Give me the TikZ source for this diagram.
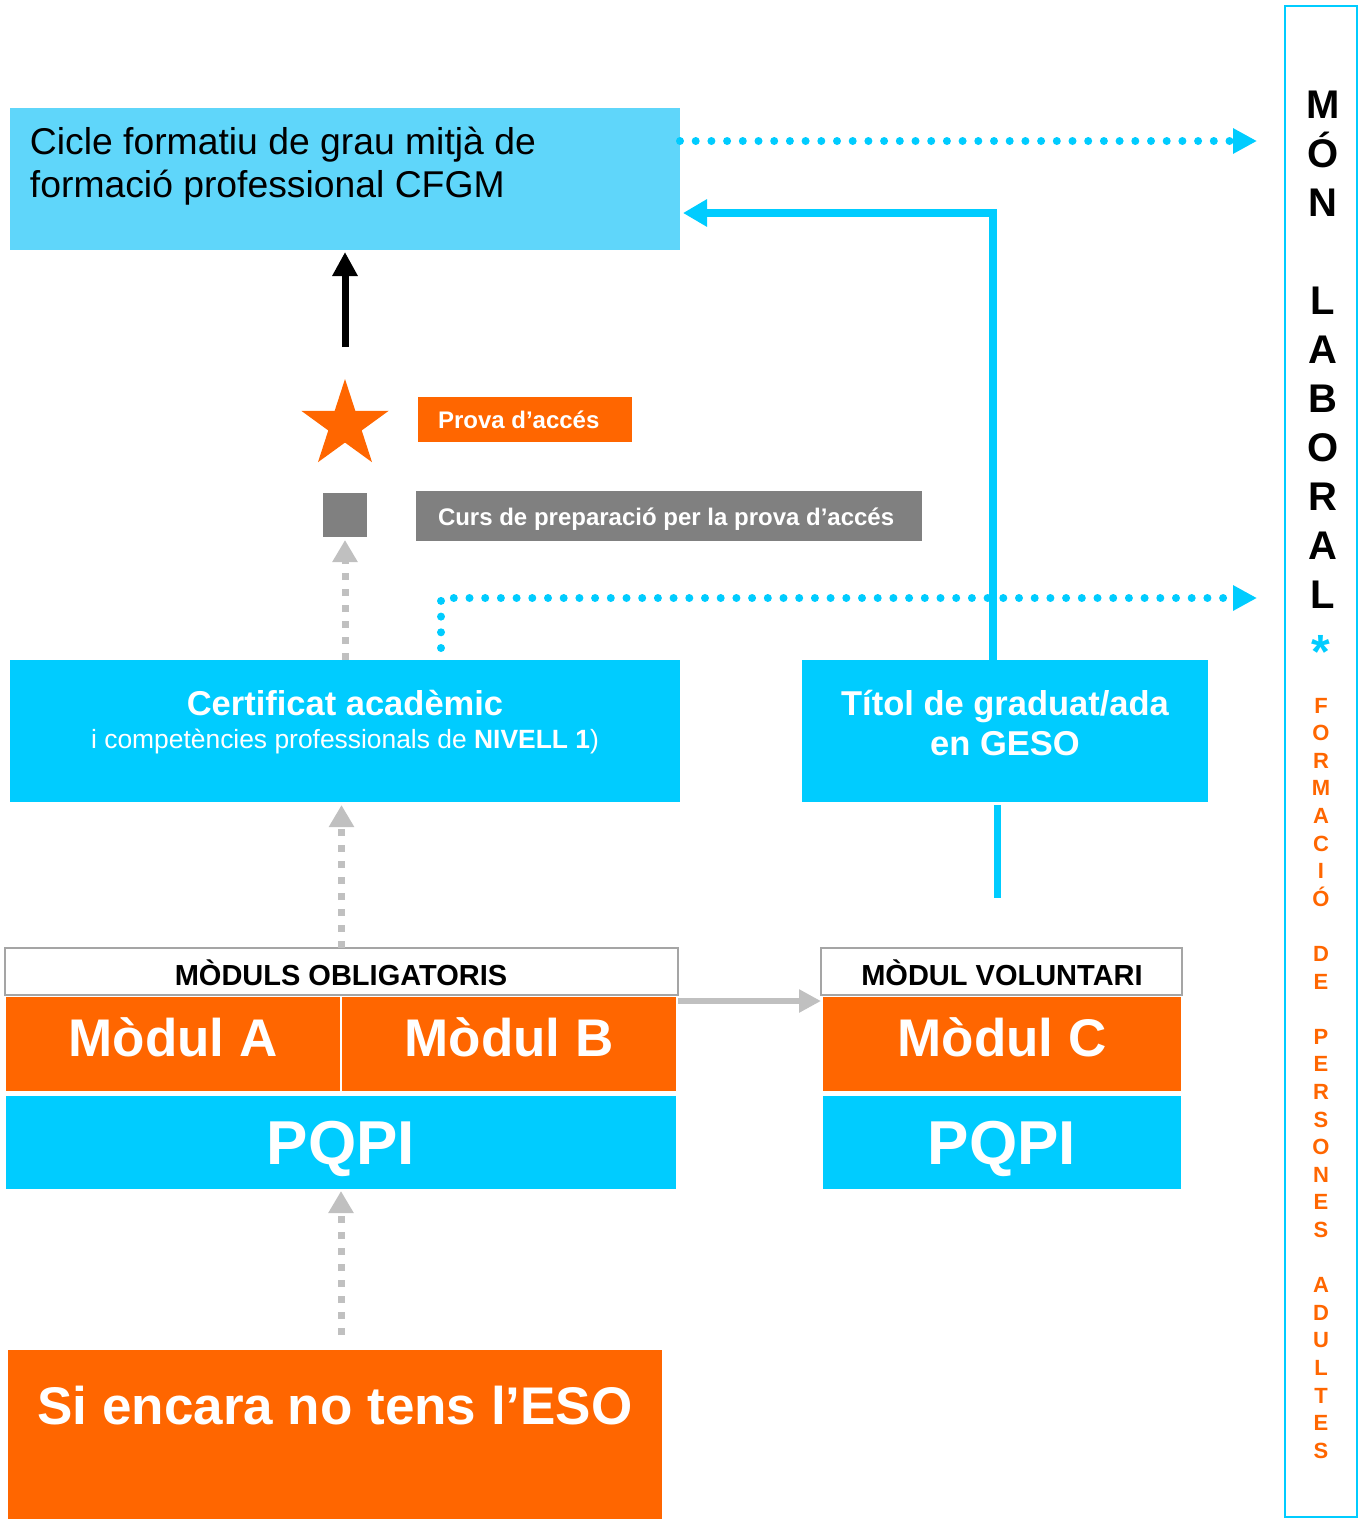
\documentclass[tikz,border=0pt]{standalone}
\usepackage{fontspec}
\setmainfont{Liberation Sans}
\usetikzlibrary{arrows.meta,shapes.geometric,calc}
\definecolor{cyanC}{RGB}{0,204,255}
\definecolor{cyanL}{RGB}{95,214,250}
\definecolor{orangeC}{RGB}{255,102,0}
\definecolor{grayC}{RGB}{128,128,128}
\definecolor{grayL}{RGB}{192,192,192}
\definecolor{grayB}{RGB}{165,165,165}
\begin{document}
\begin{tikzpicture}[x=1pt,y=-1pt,
  box/.style={anchor=north west, inner sep=0pt, outer sep=0pt},
  txt/.style={inner sep=0pt, outer sep=0pt, anchor=base},
  dotarrow/.style={draw=cyanC, line width=8pt, line cap=round, dash pattern=on 0pt off 15.7pt, -{Triangle[length=24pt,width=24pt]}},
  cyanarrow/.style={draw=cyanC, line width=8pt, -{Triangle[length=24pt,width=26pt]}},
  blackarrow/.style={draw=black, line width=7pt, -{Triangle[length=24pt,width=24pt]}},
  grayarrow/.style={draw=grayL, line width=7pt, dash pattern=on 7pt off 9pt, -{Triangle[length=22pt,width=24pt]}},
  graysolid/.style={draw=grayL, line width=6pt, -{Triangle[length=22pt,width=22pt]}},
  wtxt/.style={txt, text=white, font=\bfseries},
]
\useasboundingbox (0,0) rectangle (1364,1519);

% top box
\node[box, fill=cyanL, minimum width=670pt, minimum height=142pt] (cfgm) at (10,108) {};
\node[txt, anchor=base west, font=\fontsize{37.3}{43}\selectfont] (cfgmt1) at (30,154) {Cicle formatiu de grau mitjà de};
\node[txt, anchor=base west, font=\fontsize{37.3}{43}\selectfont] (cfgmt2) at (30,197) {formació professional CFGM};

% star and access test
\node[star, star points=5, star point ratio=2.618, minimum size=92pt, inner sep=0pt, fill=orangeC] (star) at (345,425) {};
\node[box, fill=orangeC, minimum width=214pt, minimum height=45pt] (prova) at (418,397) {};
\node[wtxt, anchor=base west, font=\bfseries\fontsize{24}{28}\selectfont] (provat) at (438,428) {Prova d’accés};
\node[box, fill=grayC, minimum width=44pt, minimum height=44pt] (sq) at (323,493) {};
\node[box, fill=grayC, minimum width=506pt, minimum height=50pt] (curs) at (416,491) {};
\node[wtxt, anchor=base west, font=\bfseries\fontsize{24}{28}\selectfont] (curst) at (438,525) {Curs de preparació per la prova d’accés};

% certificat
\node[box, fill=cyanC, minimum width=670pt, minimum height=142pt] (cert) at (10,660) {};
\node[wtxt, font=\bfseries\fontsize{34.5}{40}\selectfont] (certt1) at (345,715) {Certificat acadèmic};
\node[txt, text=white, font=\fontsize{26.4}{30}\selectfont] (certt2) at (345,748) {i competències professionals de \textbf{NIVELL 1})};

% titol
\node[box, fill=cyanC, minimum width=406pt, minimum height=142pt] (titol) at (802,660) {};
\node[wtxt, font=\bfseries\fontsize{34.5}{40}\selectfont] (titolt1) at (1005,715) {Títol de graduat/ada};
\node[wtxt, font=\bfseries\fontsize{34.5}{40}\selectfont] (titolt2) at (1005,755) {en GESO};

% moduls obligatoris
\node[box, fill=white, draw=grayB, line width=2pt, minimum width=673pt, minimum height=47pt] (obl) at (5,948) {};
\node[txt, font=\bfseries\fontsize{29}{32}\selectfont] (oblt) at (341,985) {MÒDULS OBLIGATORIS};
\node[box, fill=orangeC, minimum width=334pt, minimum height=94pt] (modA) at (6,997) {};
\node[box, fill=orangeC, minimum width=334pt, minimum height=94pt] (modB) at (342,997) {};
\node[wtxt, font=\bfseries\fontsize{53}{60}\selectfont] (modAt) at (173,1056) {Mòdul A};
\node[wtxt, font=\bfseries\fontsize{53}{60}\selectfont] (modBt) at (509,1056) {Mòdul B};
\node[box, fill=cyanC, minimum width=670pt, minimum height=93pt] (pqpiA) at (6,1096) {};
\node[wtxt, font=\bfseries\fontsize{62}{70}\selectfont] (pqpiAt) at (341,1164) {PQPI};

% modul voluntari
\node[box, fill=white, draw=grayB, line width=2pt, minimum width=361pt, minimum height=47pt] (vol) at (821,948) {};
\node[txt, font=\bfseries\fontsize{29}{32}\selectfont] (volt) at (1002,985) {MÒDUL VOLUNTARI};
\node[box, fill=orangeC, minimum width=358pt, minimum height=94pt] (modC) at (823,997) {};
\node[wtxt, font=\bfseries\fontsize{53}{60}\selectfont] (modCt) at (1002,1056) {Mòdul C};
\node[box, fill=cyanC, minimum width=358pt, minimum height=93pt] (pqpiC) at (823,1096) {};
\node[wtxt, font=\bfseries\fontsize{62}{70}\selectfont] (pqpiCt) at (1002,1164) {PQPI};

% ESO
\node[box, fill=orangeC, minimum width=654pt, minimum height=170pt] (eso) at (8,1350) {};
\node[wtxt, font=\bfseries\fontsize{53}{60}\selectfont] (esot) at (335,1424) {Si encara no tens l’ESO};

% right column
\node[box, draw=cyanC, line width=2.5pt, minimum width=72pt, minimum height=1511pt] (mon) at (1285,6) {};
\foreach \l/\i in {M/0,Ó/1,N/2,L/4,A/5,B/6,O/7,R/8,A/9,L/10}
  \node[txt, font=\bfseries\fontsize{40}{40}\selectfont] (mon\i) at (1323,{118+49*\i}) {\l};
\node[txt, text=cyanC, font=\bfseries\fontsize{48}{48}\selectfont] (ast) at (1321,668) {*};
\foreach \l/\i in {F/0,O/1,R/2,M/3,A/4,C/5,I/6,Ó/7,D/9,E/10,P/12,E/13,R/14,S/15,O/16,N/17,E/18,S/19,A/21,D/22,U/23,L/24,T/25,E/26,S/27}
  \node[txt, text=orangeC, font=\bfseries\fontsize{22}{22}\selectfont] (fpa\i) at (1321,{713+27.6*\i}) {\l};

% connectors
\coordinate (mon1) at (1257,141);
\coordinate (mon2) at (1257,598);
\coordinate (d2) at (441,648);
\coordinate (bA) at (345,347);
\coordinate (tl) at (997,898);
\coordinate (e1) at (341,1335);
\draw[dotarrow] (cfgm.north east |- mon1) -- (mon1);
\draw[dotarrow] (d2) |- (mon2);
\draw[cyanarrow] ([xshift=-12pt]titol.north) |- ([xshift=3pt,yshift=-105pt]cfgm.north east);
\draw[blackarrow] (bA) -- ([yshift=-2pt]cfgm.south);
\draw[grayarrow] (cert.north -| bA) -- ([yshift=-3pt]sq.south);
\draw[grayarrow] (obl.north) -- ([yshift=-3pt]obl.north |- cert.south);
\draw[graysolid] ([yshift=-6pt]obl.south east) -- ([yshift=-6pt]vol.south west);
\draw[draw=cyanC, line width=7pt] ([xshift=-8pt,yshift=-3pt]titol.south) -- (tl);
\draw[grayarrow] (e1) -- ([yshift=-2pt]pqpiA.south);
\end{tikzpicture}
\end{document}
